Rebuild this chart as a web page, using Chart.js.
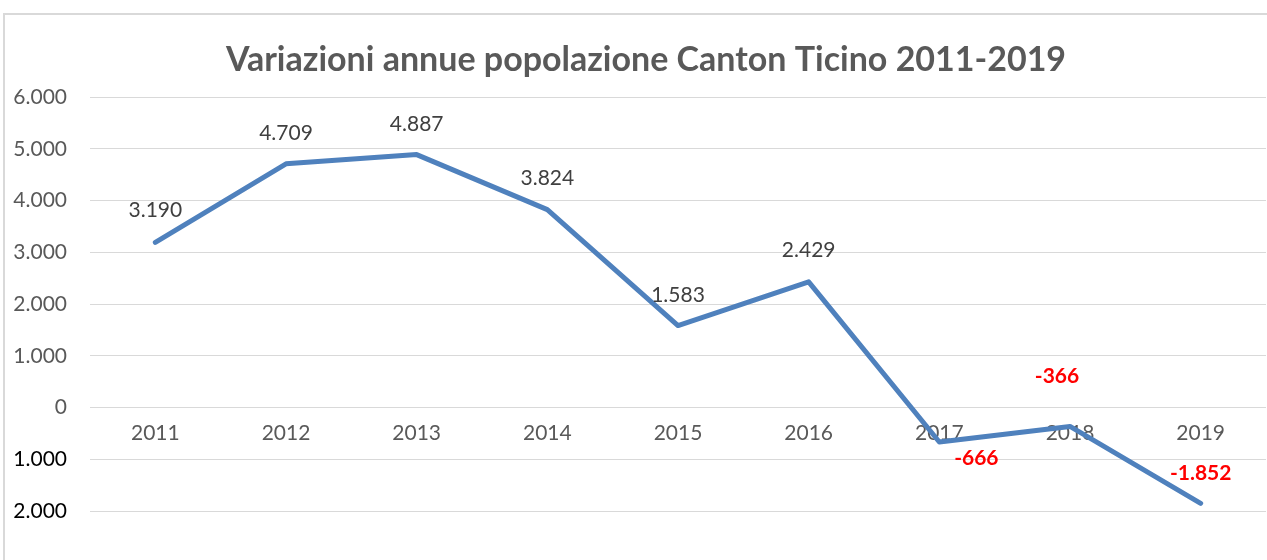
<!DOCTYPE html>
<html>
<head>
<meta charset="utf-8">
<script src="https://cdn.jsdelivr.net/npm/chart.js@4.4.1/dist/chart.umd.min.js"></script>
<style>
  html, body { margin: 0; padding: 0; background: #fff; }
  #wrap { width: 1267px; height: 560px; position: relative; }
</style>
</head>
<body>
<div id="wrap"><canvas id="chart"></canvas></div>
<script>
const years = ['2011', '2012', '2013', '2014', '2015', '2016', '2017', '2018', '2019'];
const variazioni = [3190, 4709, 4887, 3824, 1583, 2429, -666, -366, -1852];
const yTickValues = [-2000, -1000, 0, 1000, 2000, 3000, 4000, 5000, 6000];
const chartTitle = 'Variazioni annue popolazione Canton Ticino 2011-2019';

// 1.234 style, sign optional
function fmt(v, keepSign) {
    const s = String(Math.abs(v)).replace(/\B(?=(\d{3})+(?!\d))/g, '.');
    return (keepSign && v < 0 ? '-' : '') + s;
}

Chart.defaults.font.family = 'Lato, "Open Sans", sans-serif';

// frame + title, like the excel chart object
const frame = {
    id: 'frame',
    beforeDraw(chart) {
        const ctx = chart.ctx;
        ctx.save();
        ctx.fillStyle = '#fff';
        ctx.fillRect(0, 0, chart.width, chart.height);
        ctx.strokeStyle = '#d9d9d9';
        ctx.lineWidth = 2;
        ctx.strokeRect(4, 14, chart.width + 40, chart.height + 40);
        ctx.font = 'bold 34px Lato, "Open Sans", sans-serif';
        ctx.fillStyle = '#595959';
        ctx.textAlign = 'center';
        ctx.textBaseline = 'middle';
        ctx.fillText(chartTitle, 646, 60);
        ctx.restore();
    }
};

// value labels next to each point
const valueLabels = {
    id: 'valueLabels',
    afterDatasetsDraw(chart, args, opts) {
        const ctx = chart.ctx;
        const meta = chart.getDatasetMeta(0);
        ctx.save();
        ctx.textAlign = 'center';
        ctx.textBaseline = 'middle';
        meta.data.forEach((pt, i) => {
            const v = variazioni[i];
            const off = opts.offsets[i];
            ctx.font = v < 0 ? 'bold 21px Lato, sans-serif' : '21px Lato, sans-serif';
            ctx.fillStyle = v < 0 ? '#ff0000' : '#404040';
            ctx.fillText(fmt(v, true), pt.x + off[0], pt.y + off[1]);
        });
        ctx.restore();
    }
};

new Chart(document.getElementById('chart'), {
    type: 'line',
    data: {
        labels: years,
        datasets: [{
            data: variazioni,
            borderColor: '#4f81bd',
            borderWidth: 5,
            borderCapStyle: 'round',
            borderJoinStyle: 'round',
            pointRadius: 0,
            tension: 0
        }]
    },
    options: {
        responsive: true,
        maintainAspectRatio: false,
        animation: false,
        layout: { padding: { top: 97, bottom: 49, left: 0, right: 1 } },
        scales: {
            x: {
                position: { y: 0 },
                offset: true,
                grid: { display: false, drawTicks: false },
                border: { display: false },
                ticks: { color: '#595959', font: { size: 21 }, padding: 13, maxRotation: 0 }
            },
            y: {
                min: yTickValues[0],
                max: yTickValues[yTickValues.length - 1],
                afterBuildTicks(scale) {
                    scale.ticks = yTickValues.map(v => ({ value: v }));
                },
                afterFit(scale) { scale.width = 90; },
                grid: { color: '#d9d9d9', lineWidth: 1, drawTicks: false },
                border: { display: false },
                ticks: {
                    padding: 23,
                    font: { size: 21 },
                    color: c => c.tick && c.tick.value < 0 ? '#000000' : '#595959',
                    callback: v => fmt(v, false)
                }
            }
        },
        plugins: {
            legend: { display: false },
            tooltip: { enabled: false },
            valueLabels: {
                offsets: [[0, -32], [0, -31], [0, -30], [0, -31], [0, -30], [0, -32], [37, 16], [-13, -50], [0, -30]]
            }
        }
    },
    plugins: [frame, valueLabels]
});
</script>
</body>
</html>
